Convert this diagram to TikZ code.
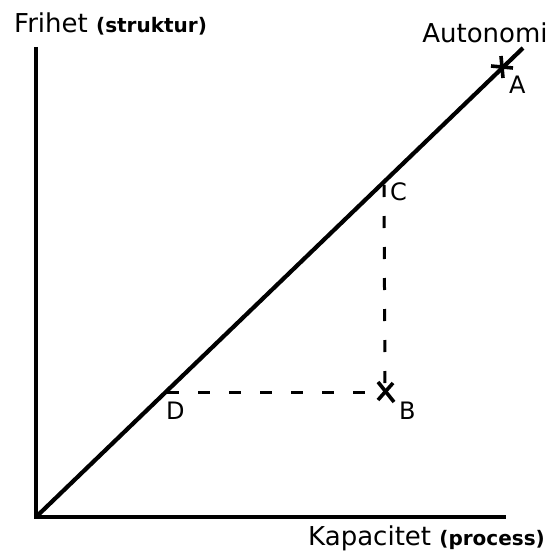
\documentclass[tikz,border=0pt]{standalone}
\usepackage{fontspec}
\setmainfont{DejaVu Sans}
\newfontfamily\parenfont{DejaVu Sans}[BoldFont=DejaVu Sans Bold]
\newcommand{\paren}[1]{{\parenfont\bfseries\fontsize{20}{22}\selectfont #1}}
\usetikzlibrary{positioning}

\begin{document}
\begin{tikzpicture}[
  x=1pt, y=-1pt,
  axis/.style={line width=4.6pt},
  diag/.style={line width=4.2pt},
  guide/.style={line width=3pt, dash pattern=on 12pt off 19pt},
  crossmark/.style={line width=3.6pt},
  lbl/.style={inner sep=0pt, font=\fontsize{26}{28}\selectfont},
  pt/.style={inner sep=0pt, font=\fontsize{24}{26}\selectfont}
]
\useasboundingbox (0,0) rectangle (551,551);
\coordinate (o) at (36,517);
\coordinate (ytop) at (36,47);
\coordinate (xend) at (506,517);
\coordinate (top) at (523,48);
\coordinate (a) at (502,67);
\coordinate (c) at (384,185);
\coordinate (b) at (385,392);
\coordinate (d) at (167,392);

\draw[axis] (ytop) -- (o) -- (xend);
\draw[diag] (o) -- (top);
\draw[guide] (c) -- (b);
\draw[guide] (d) -- (b);

\draw[crossmark] ([shift={(-11,-1)}]a) -- ([shift={(11,1)}]a);
\draw[crossmark] ([shift={(-1,-11)}]a) -- ([shift={(1,11)}]a);
\draw[crossmark] ([shift={(-7,-10)}]b) -- ([shift={(9,10)}]b);
\draw[crossmark] ([shift={(8,-9)}]b) -- ([shift={(-7,8)}]b);

\node[lbl, anchor=base west] (frihet) at (14,33) {Frihet \paren{(struktur)}};
\node[lbl, anchor=base] (autonomi) at (485,43) {Autonomi};
\node[lbl, anchor=base east] (kapacitet) at (545,545) {Kapacitet \paren{(process)}};
\node[pt, anchor=base west] (labA) at (509,93) {A};
\node[pt, anchor=base west] (labB) at (399,419) {B};
\node[pt, anchor=base west] (labC) at (390,200) {C};
\node[pt, anchor=base west] (labD) at (166,419) {D};
\end{tikzpicture}
\end{document}
